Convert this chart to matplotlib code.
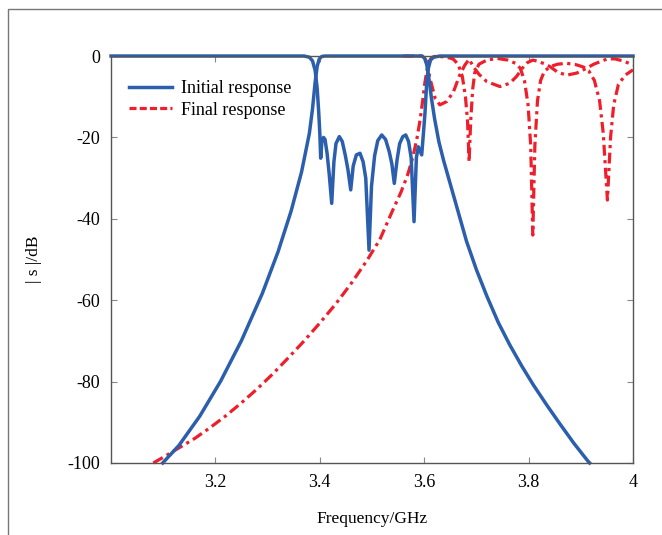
import matplotlib
matplotlib.use('Agg')
import matplotlib.pyplot as plt
from matplotlib.lines import Line2D
from matplotlib.patches import Rectangle

plt.rcParams['font.family'] = ['Liberation Serif', 'DejaVu Serif']
plt.rcParams['axes.unicode_minus'] = False

# initial response, |S21|
init_s21_f = [3.099, 3.13, 3.17, 3.21, 3.25, 3.29, 3.32, 3.345, 3.365, 3.38,
              3.386, 3.391, 3.395, 3.399, 3.404, 3.41, 3.5, 3.596,
              3.601, 3.605, 3.609, 3.614, 3.620, 3.628, 3.637, 3.66, 3.681,
              3.70, 3.72, 3.742, 3.764, 3.787, 3.809, 3.835, 3.86, 3.887,
              3.914, 3.917]
init_s21_db = [-100, -95.7, -88.5, -79.9, -69.9, -58.3, -48.1, -38.1, -28.5, -19,
               -13, -6.5, -2.5, -0.7, -0.1, 0, 0, 0,
               -0.6, -2.2, -5.5, -10.5, -15.5, -21, -25.6, -36, -45.5,
               -52.5, -59, -65.5, -71, -76.2, -80.8, -85.8, -90.4, -95.2,
               -99.6, -100]

# initial response, |S11|
init_s11_f = [3.0, 3.37, 3.38, 3.386, 3.391, 3.395, 3.398, 3.400, 3.4017, 3.404,
              3.407, 3.410, 3.414, 3.418, 3.4228, 3.427, 3.431, 3.4374, 3.443,
              3.449, 3.454, 3.4592, 3.464, 3.470, 3.477, 3.483, 3.488, 3.4943,
              3.499, 3.505, 3.511, 3.5186, 3.526, 3.533, 3.538, 3.5427, 3.548,
              3.553, 3.559, 3.5646, 3.570, 3.575, 3.5805, 3.585, 3.5887, 3.5952,
              3.5985, 3.6015, 3.605, 3.608, 3.612, 3.618, 3.63, 4.0]
init_s11_db = [0, 0, -0.3, -1.2, -3.5, -8, -14, -19, -25.1, -21,
               -20, -20.5, -24, -29, -36.2, -26, -21.5, -19.8, -21,
               -24.5, -28, -32.9, -27, -24.3, -23.9, -26, -30, -47.7,
               -32, -24.5, -20.8, -19.4, -20.5, -23.5, -26.5, -31.3, -25.5,
               -21.5, -19.8, -19.4, -21, -25, -40.7, -25, -22.3, -24.3,
               -19, -14, -6, -3, -1, -0.3, 0, 0]

# final response, |S21|
final_s21_f = [3.081, 3.10, 3.13, 3.16, 3.19, 3.22, 3.25, 3.28, 3.31, 3.34,
               3.37, 3.40, 3.43, 3.46, 3.49, 3.515, 3.54, 3.555, 3.568, 3.578,
               3.586, 3.592, 3.597, 3.601, 3.605, 3.609, 3.614, 3.62,
               3.64, 3.655, 3.665, 3.673, 3.679, 3.683, 3.686, 3.689, 3.693,
               3.697, 3.705, 3.72, 3.74, 3.76, 3.775, 3.784, 3.792, 3.799, 3.804,
               3.808, 3.812, 3.817, 3.823, 3.83, 3.841, 3.856, 3.873, 3.89,
               3.905, 3.915, 3.926, 3.936, 3.943, 3.951, 3.957, 3.963, 3.972,
               3.985, 4.0]
final_s21_db = [-100, -98.6, -96.3, -94, -91.3, -88.4, -85.2, -81.8, -78.1, -74.1,
                -70, -65.6, -61, -55.9, -50.3, -45.1, -37.8, -33.6, -29.3, -25,
                -20.3, -15.8, -11, -6.8, -3.6, -1.4, -0.4, -0.1,
                -0.2, -0.7, -2, -5, -10, -16, -26, -16, -8,
                -4, -2, -1, -0.6, -1, -1.8, -3, -6, -12, -22,
                -44, -22, -11, -6, -3.8, -2.6, -2, -1.8, -2.1,
                -2.7, -3.6, -6, -11, -19, -35.4, -20, -12, -7,
                -4.7, -3.4]

# final response, |S11|
final_s11_f = [3.56, 3.595, 3.60, 3.605, 3.611, 3.621, 3.630, 3.643, 3.656, 3.668,
               3.678, 3.686, 3.695, 3.705, 3.72, 3.745, 3.764, 3.777, 3.788,
               3.798, 3.808, 3.818, 3.83, 3.841, 3.856, 3.873, 3.892, 3.911,
               3.925, 3.937, 3.951, 3.965, 3.981, 4.0]
final_s11_db = [0, 0, -0.3, -1.5, -5.5, -10.4, -12, -11.2, -8.8, -4.7,
                -2.2, -0.8, -2.8, -4.5, -6.3, -7.5, -6.7, -5, -3,
                -1.6, -1, -1.3, -1.9, -2.6, -4, -4.7, -4.2, -3,
                -2, -1.4, -0.7, -0.7, -1.2, -2.2]

blue = '#2b5fad'
red = '#ee1f2b'
dashdot = (0, (3.4, 1.4, 1.0, 1.4))

fig = plt.figure(figsize=(6.62, 5.35), dpi=100)
ax = fig.add_axes([0.1677, 0.1346, 0.7885, 0.7607])

ax.plot(final_s21_f, final_s21_db, color=red, lw=2.3, linestyle=dashdot, clip_on=False)
ax.plot(final_s11_f, final_s11_db, color=red, lw=2.3, linestyle=dashdot, clip_on=False)
ax.plot(init_s21_f, init_s21_db, color=blue, lw=2.5, clip_on=False)
ax.plot(init_s11_f, init_s11_db, color=blue, lw=2.5, clip_on=False)

ax.set_xlim(3.0, 4.0)
ax.set_ylim(-100, 0)
ax.set_xticks([3.2, 3.4, 3.6, 3.8, 4.0])
ax.set_xticklabels(['3.2', '3.4', '3.6', '3.8', '4'])
ax.set_yticks([0, -20, -40, -60, -80, -100])
ax.tick_params(direction='in', top=True, right=True, length=4,
               width=0.8, color='#888888', labelsize=13, pad=8)
for sp in ax.spines.values():
    sp.set_color('#555555')
    sp.set_linewidth(1.0)

ax.set_xlabel('Frequency/GHz', fontsize=12.5, labelpad=14)
ax.set_ylabel('| s |/dB', fontsize=12.5, labelpad=18)

handles = [Line2D([], [], color=blue, lw=2.5),
           Line2D([], [], color=red, lw=2.3, linestyle=(0, (2.2, 1.0)))]
ax.legend(handles, ['Initial response', 'Final response'], loc='upper left',
          bbox_to_anchor=(0.0, 0.985), frameon=False, fontsize=13,
          handlelength=2.4, labelspacing=0.25, borderaxespad=0.6,
          handletextpad=0.5)

# outer frame of the picture
fig.patches.append(Rectangle((8 / 662, -0.05), 1.1, 1 - 9 / 535 + 0.05,
                             transform=fig.transFigure, fill=False,
                             edgecolor='#777777', lw=1.0))

fig.savefig('out.png', dpi=100)
